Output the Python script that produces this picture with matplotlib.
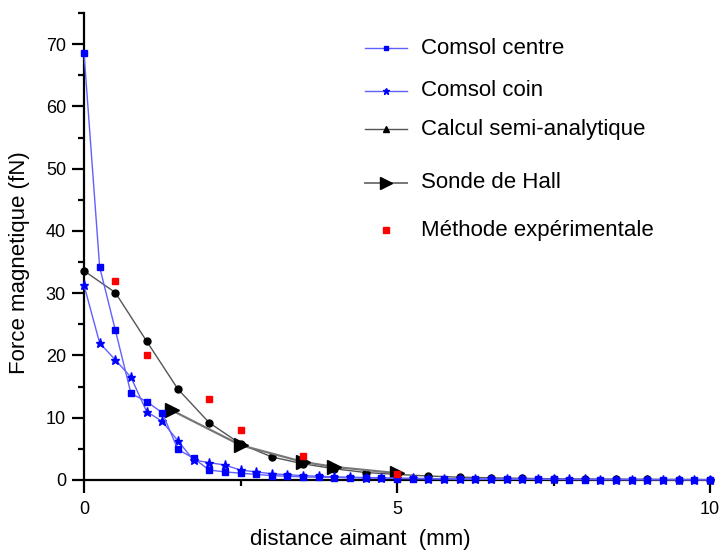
import matplotlib
matplotlib.use("Agg")
import matplotlib.pyplot as plt
from matplotlib.lines import Line2D

plt.rcParams['font.family'] = ['Liberation Sans', 'DejaVu Sans']

# ---- data ----
x_comsol = [0, 0.25, 0.5, 0.75, 1.0, 1.25, 1.5, 1.75, 2.0, 2.25, 2.5, 2.75, 3.0, 3.25,
            3.5, 3.75, 4.0, 4.25, 4.5, 4.75, 5.0, 5.25, 5.5, 5.75, 6.0, 6.25, 6.5, 6.75,
            7.0, 7.25, 7.5, 7.75, 8.0, 8.25, 8.5, 8.75, 9.0, 9.25, 9.5, 9.75, 10.0]
centre_y = [68.6, 34.2, 24.1, 13.9, 12.6, 10.8, 4.9, 3.5, 1.6, 1.3, 1.1, 0.9, 0.7, 0.6,
            0.5, 0.45, 0.4, 0.35, 0.3, 0.27, 0.24, 0.21, 0.19, 0.17, 0.15, 0.14, 0.13, 0.12,
            0.11, 0.10, 0.09, 0.08, 0.08, 0.07, 0.07, 0.06, 0.06, 0.05, 0.05, 0.05, 0.04]
coin_y = [31.3, 22.0, 19.3, 16.5, 11.0, 9.4, 6.3, 3.2, 2.8, 2.4, 1.6, 1.3, 1.0, 0.85,
          0.7, 0.6, 0.5, 0.45, 0.4, 0.35, 0.3, 0.27, 0.24, 0.21, 0.19, 0.17, 0.15, 0.14,
          0.13, 0.12, 0.11, 0.10, 0.09, 0.08, 0.08, 0.07, 0.07, 0.06, 0.06, 0.05, 0.05]
x_calcul = [0, 0.5, 1.0, 1.5, 2.0, 2.5, 3.0, 3.5, 4.0, 4.5, 5.0, 5.5, 6.0, 6.5, 7.0,
            7.5, 8.0, 8.5, 9.0, 9.5, 10.0]
calcul_y = [33.6, 30.1, 22.3, 14.6, 9.2, 5.8, 3.7, 2.6, 1.8, 1.2, 0.9, 0.64, 0.45, 0.35,
            0.27, 0.2, 0.16, 0.13, 0.1, 0.08, 0.06]
x_hall = [1.4, 2.5, 3.5, 4.0, 5.0]
hall_y = [11.2, 5.6, 2.9, 2.1, 1.1]
x_exp = [0.5, 1.0, 2.0, 2.5, 3.5, 5.0]
exp_y = [31.9, 20.0, 13.0, 8.0, 3.9, 1.0]

labels = ["Comsol centre", "Comsol coin", "Calcul semi-analytique",
          "Sonde de Hall", "Méthode expérimentale"]

# ---- figure ----
W, H = 721, 550
fig = plt.figure(figsize=(W / 100, H / 100), dpi=100)
ax = fig.add_axes([84 / W, 1 - 480 / H, 626 / W, 467 / H])

line_blue = '#6060ff'
line_gray = '#555555'

ax.plot(x_calcul, calcul_y, color=line_gray, lw=1.0, marker='o', ms=5,
        mfc='black', mec='black', zorder=3, clip_on=False)
ax.plot(x_hall, hall_y, color='#777777', lw=1.6, marker='>', ms=10,
        mfc='black', mec='black', zorder=3, clip_on=False)
ax.plot(x_comsol, coin_y, color=line_blue, lw=1.0, marker='*', ms=6.5,
        mfc='blue', mec='blue', zorder=4, clip_on=False)
ax.plot(x_comsol, centre_y, color=line_blue, lw=1.0, marker='s', ms=4.2,
        mfc='blue', mec='blue', zorder=4, clip_on=False)
ax.plot(x_exp, exp_y, ls='none', marker='s', ms=4.8, mfc='red', mec='red',
        zorder=5, clip_on=False)

ax.set_xlim(0, 10)
ax.set_ylim(0, 75)
ax.set_xticks([0, 5, 10])
ax.set_xticks([2.5, 7.5], minor=True)
ax.set_yticks(list(range(0, 71, 10)))
ax.set_yticks(list(range(5, 76, 10)), minor=True)

for s in ['top', 'right']:
    ax.spines[s].set_visible(False)
for s in ['left', 'bottom']:
    ax.spines[s].set_linewidth(1.6)

ax.tick_params(which='major', direction='out', length=9, width=1.6,
               labelsize=13, colors='black', pad=4)
ax.tick_params(which='minor', direction='out', length=4.5, width=1.6)
ax.tick_params(axis='x', which='major', pad=6)

# axis titles, placed as in the original (slightly off-centre)
fig.text(360 / W, 1 - 539 / H, "distance aimant  (mm)", fontsize=16,
         ha='center', va='center')
fig.text(20 / W, 1 - 263 / H, "Force magnetique (fN)", fontsize=16,
         ha='center', va='center', rotation=90)

# ---- manual legend (uneven spacing as in the original) ----
rows_y = [0.9244, 0.8330, 0.751, 0.6366, 0.5353]
hx0, hx1, tx = 0.449, 0.516, 0.538
hm = (hx0 + hx1) / 2
styles = [
    dict(color=line_blue, marker='s', ms=3.5, mfc='blue', mec='blue', lw=1.0),
    dict(color=line_blue, marker='*', ms=5, mfc='blue', mec='blue', lw=1.0),
    dict(color=line_gray, marker='^', ms=4.5, mfc='black', mec='black', lw=1.0),
    dict(color='#777777', marker='>', ms=9, mfc='black', mec='black', lw=1.4),
    dict(color='red', marker='s', ms=4, mfc='red', mec='red', lw=0),
]
for yy, lab, st in zip(rows_y, labels, styles):
    if st['lw'] > 0:
        ax.add_line(Line2D([hx0, hx1], [yy, yy], transform=ax.transAxes,
                           color=st['color'], lw=st['lw'], clip_on=False))
    ax.add_line(Line2D([hm], [yy], transform=ax.transAxes, ls='none',
                       marker=st['marker'], ms=st['ms'], mfc=st['mfc'],
                       mec=st['mec'], clip_on=False))
    ax.text(tx, yy, lab, transform=ax.transAxes, fontsize=16, va='center',
            ha='left')

fig.savefig("out.png", dpi=100)
